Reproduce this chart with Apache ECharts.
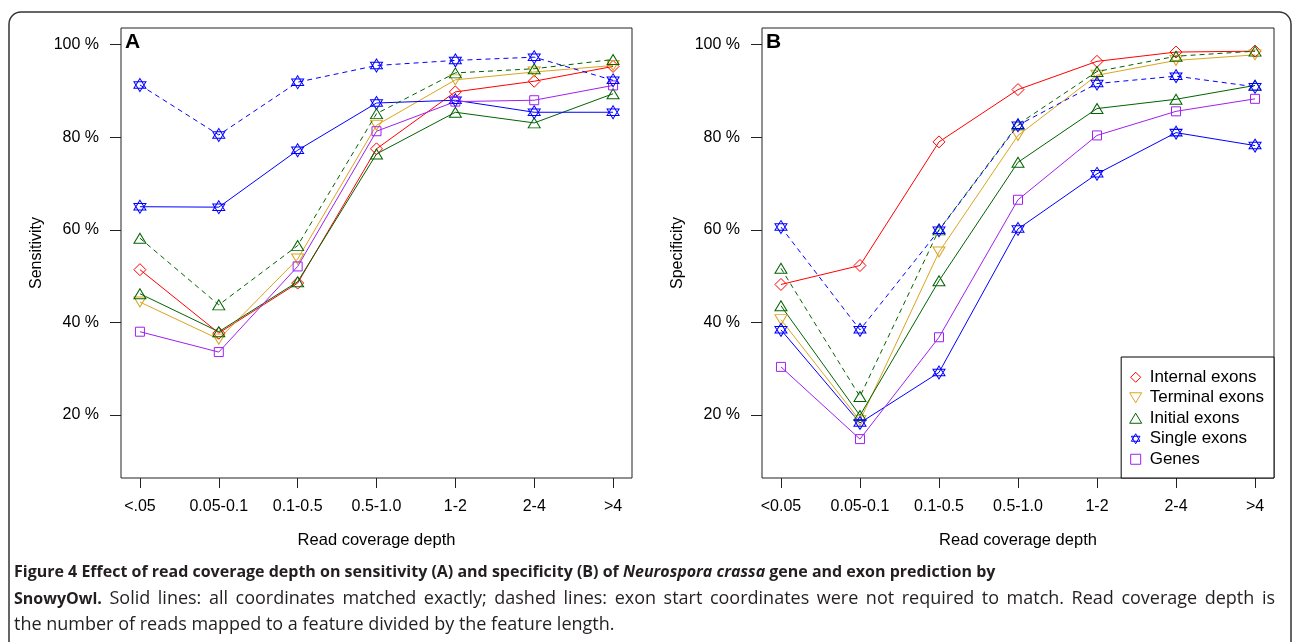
<!DOCTYPE html>
<html>
<head>
<meta charset="utf-8">
<script src="https://cdn.jsdelivr.net/npm/echarts@6/dist/echarts.min.js"></script>
<style>
  html, body { margin: 0; padding: 0; background: #fff; }
  #main { width: 1293px; height: 642px; }
</style>
</head>
<body>
<div id="main"></div>
<script>
// read coverage depth bins
var depthBins = ['<.05', '0.05-0.1', '0.1-0.5', '0.5-1.0', '1-2', '2-4', '>4'];
var depthBinsB = ['<0.05', '0.05-0.1', '0.1-0.5', '0.5-1.0', '1-2', '2-4', '>4'];
var yTicks = [20, 40, 60, 80, 100];

// A: sensitivity (%)
var sensInternal = [51.4, 37.7, 48.5, 77.5, 89.8, 92.1, 95.3];
var sensTerminal = [44.4, 36.4, 53.7, 82.6, 92.4, 94.1, 95.5];
var sensInitial = [46.2, 38.0, 48.8, 76.4, 85.4, 83.1, 89.4];
var sensInitialLoose = [58.2, 43.8, 56.6, 85.1, 93.9, 94.8, 96.8];
var sensSingle = [65.0, 64.9, 77.2, 87.4, 88.0, 85.4, 85.4];
var sensSingleLoose = [91.3, 80.5, 91.9, 95.5, 96.6, 97.3, 92.3];
var sensGenes = [38.0, 33.6, 52.1, 81.3, 87.7, 88.0, 91.2];

// B: specificity (%)
var specInternal = [48.2, 52.3, 79.0, 90.3, 96.4, 98.4, 98.6];
var specTerminal = [40.6, 18.8, 55.2, 80.4, 93.4, 96.6, 97.8];
var specInitial = [43.6, 19.9, 49.0, 74.6, 86.2, 88.2, 91.2];
var specInitialLoose = [51.7, 24.0, 60.0, 82.8, 94.2, 97.5, 98.6];
var specSingle = [38.4, 18.3, 29.2, 60.2, 72.1, 81.0, 78.2];
var specSingleLoose = [60.6, 38.4, 59.9, 82.6, 91.6, 93.2, 90.9];
var specGenes = [30.4, 14.8, 36.8, 66.5, 80.4, 85.6, 88.3];

var FONT = '"Liberation Sans", Arial, sans-serif';
var CAPFONT = '"Open Sans", "Noto Sans", sans-serif';

// open R-style plotting symbols
var SYM = {
  diamond: 'path://M0,-6L6,0L0,6L-6,0Z',
  down: 'path://M-6,-4.5L6,-4.5L0,5.5Z',
  up: 'path://M-6,4.5L6,4.5L0,-5.5Z',
  star: 'path://M0,-7L6,3.5L-6,3.5Z M0,7L6,-3.5L-6,-3.5Z',
  square: 'path://M-4,-4L4,-4L4,4L-4,4Z'
};

var kinds = [
  {name: 'Internal exons', color: '#FF0000', sym: SYM.diamond, size: [12, 12]},
  {name: 'Terminal exons', color: '#DAA520', sym: SYM.down, size: [12, 10]},
  {name: 'Initial exons', color: '#006400', sym: SYM.up, size: [12, 10]},
  {name: 'Single exons', color: '#0000FF', sym: SYM.star, size: [12, 13]},
  {name: 'Genes', color: '#A020F0', sym: SYM.square, size: [9, 9]}
];

function pairs(arr) {
  return arr.map(function (v, i) { return [i + 1, v]; });
}

function mkSeries(idx, k, arr, dashed) {
  var kd = kinds[k];
  return {
    name: kd.name,
    type: 'line',
    xAxisIndex: idx,
    yAxisIndex: idx,
    data: pairs(arr),
    symbol: kd.sym,
    symbolSize: kd.size,
    itemStyle: { color: 'rgba(0,0,0,0)', borderColor: kd.color, borderWidth: 1 },
    lineStyle: { color: kd.color, width: 1, type: dashed ? [5, 4] : 'solid' },
    emphasis: { disabled: true },
    animation: false,
    z: dashed ? 3 : 2
  };
}

function xAxis(idx, labels) {
  return {
    type: 'value',
    gridIndex: idx,
    min: 0.76,
    max: 7.24,
    name: 'Read coverage depth',
    nameLocation: 'middle',
    nameGap: 54,
    nameTextStyle: { fontFamily: FONT, fontSize: 16.5, color: '#000' },
    axisLine: { show: false },
    axisTick: { show: true, length: 10, lineStyle: { color: '#222' }, customValues: [1, 2, 3, 4, 5, 6, 7] },
    axisLabel: {
      customValues: [1, 2, 3, 4, 5, 6, 7],
      margin: 21,
      fontFamily: FONT, fontSize: 16, color: '#000',
      formatter: function (v) { return labels[Math.round(v) - 1]; }
    },
    splitLine: { show: false }
  };
}

function yAxis(idx, name) {
  return {
    type: 'value',
    gridIndex: idx,
    min: 6.4,
    max: 103.6,
    name: name,
    nameLocation: 'middle',
    nameGap: 76,
    nameTextStyle: { fontFamily: FONT, fontSize: 16, color: '#000' },
    axisLine: { show: false },
    axisTick: { show: true, length: 11, lineStyle: { color: '#222' }, customValues: yTicks },
    axisLabel: {
      customValues: yTicks,
      margin: 22,
      fontFamily: FONT, fontSize: 16, color: '#000',
      formatter: function (v) { return v + ' %'; }
    },
    splitLine: { show: false }
  };
}

var series = [
  mkSeries(0, 0, sensInternal, false),
  mkSeries(0, 1, sensTerminal, false),
  mkSeries(0, 2, sensInitial, false),
  mkSeries(0, 2, sensInitialLoose, true),
  mkSeries(0, 3, sensSingle, false),
  mkSeries(0, 3, sensSingleLoose, true),
  mkSeries(0, 4, sensGenes, false),
  mkSeries(1, 0, specInternal, false),
  mkSeries(1, 1, specTerminal, false),
  mkSeries(1, 2, specInitial, false),
  mkSeries(1, 2, specInitialLoose, true),
  mkSeries(1, 3, specSingle, false),
  mkSeries(1, 3, specSingleLoose, true),
  mkSeries(1, 4, specGenes, false)
];

// caption (line 2 is justified to the full width like the journal layout)
var BSIZE = 16, RSIZE = 18, CAP_W = 1261;
var capBold2 = 'SnowyOwl.';
var capText2 = 'Solid lines: all coordinates matched exactly; dashed lines: exon start coordinates were not required to match. Read coverage depth is';
var ctx = document.createElement('canvas').getContext('2d');
function textW(t, weight, size) {
  ctx.font = weight + ' ' + size + 'px ' + CAPFONT;
  return ctx.measureText(t).width;
}
var words2 = capText2.split(' ');
var wordsW = 0;
words2.forEach(function (w) { wordsW += textW(w, 'normal', RSIZE); });
var spaceW = (CAP_W - textW(capBold2, 'bold', BSIZE) - wordsW) / words2.length;
spaceW = Math.max(spaceW, textW(' ', 'normal', RSIZE));

var capLine1 = '{b|Figure 4 Effect of read coverage depth on sensitivity (A) and specificity (B) of }{bi|Neurospora crassa}{b| gene and exon prediction by}';
var capLine2 = '{b|' + capBold2 + '}' + words2.map(function (w) { return '{sp| }{r|' + w + '}'; }).join('');
var capLine3 = '{r|the number of reads mapped to a feature divided by the feature length.}';
var capRich = {
  b: { fontFamily: CAPFONT, fontSize: BSIZE, fontWeight: 'bold', fill: '#231f20' },
  bi: { fontFamily: CAPFONT, fontSize: BSIZE, fontWeight: 'bold', fontStyle: 'italic', fill: '#231f20' },
  r: { fontFamily: CAPFONT, fontSize: RSIZE, fill: '#231f20' },
  sp: { fontFamily: CAPFONT, fontSize: RSIZE, width: spaceW }
};

var option = {
  backgroundColor: '#fff',
  animation: false,
  grid: [
    { left: 121, top: 28, width: 511, height: 450, show: true, borderColor: '#222', borderWidth: 1 },
    { left: 762, top: 28, width: 512, height: 450, show: true, borderColor: '#222', borderWidth: 1 }
  ],
  xAxis: [xAxis(0, depthBins), xAxis(1, depthBinsB)],
  yAxis: [yAxis(0, 'Sensitivity'), yAxis(1, 'Specificity')],
  legend: {
    orient: 'vertical',
    right: 19,
    bottom: 164,
    padding: [10, 10, 8.5, 8],
    itemWidth: 18,
    itemHeight: 10,
    itemGap: 0,
    borderColor: '#000',
    borderWidth: 1,
    backgroundColor: '#fff',
    selectedMode: false,
    textStyle: { fontFamily: FONT, fontSize: 17, color: '#000', lineHeight: 20.5 },
    data: kinds.map(function (k) {
      return {
        name: k.name,
        icon: k.sym,
        itemStyle: { color: 'rgba(0,0,0,0)', borderColor: k.color, borderWidth: 1 }
      };
    })
  },
  graphic: [
    { type: 'rect', shape: { x: 9, y: 12, width: 1282, height: 700, r: 12 },
      style: { fill: 'none', stroke: '#333', lineWidth: 1.5 }, silent: true },
    { type: 'text', left: 125, top: 32, style: { text: 'A', fontFamily: FONT, fontSize: 21, fontWeight: 'bold', fill: '#000' } },
    { type: 'text', left: 766, top: 32, style: { text: 'B', fontFamily: FONT, fontSize: 21, fontWeight: 'bold', fill: '#000' } },
    { type: 'text', left: 14, top: 564, style: { text: capLine1, rich: capRich } },
    { type: 'text', left: 14, top: 590, style: { text: capLine2, rich: capRich } },
    { type: 'text', left: 14, top: 616, style: { text: capLine3, rich: capRich } }
  ],
  series: series
};

var myChart = echarts.init(document.getElementById('main'));
myChart.setOption(option);
</script>
</body>
</html>
